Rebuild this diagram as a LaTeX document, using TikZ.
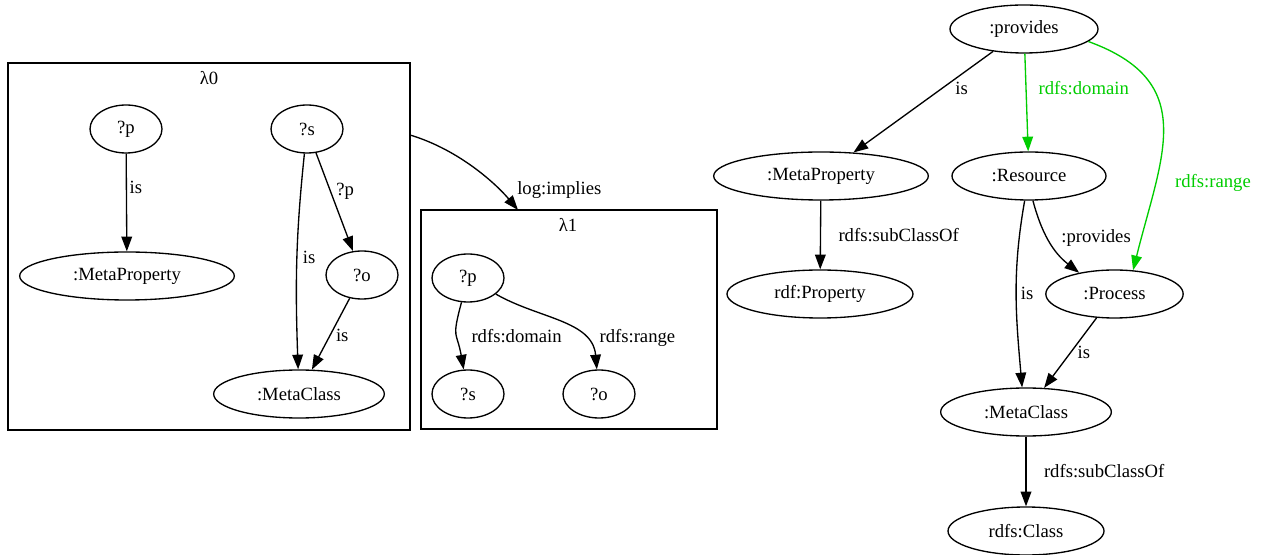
\documentclass[tikz,border=0pt]{standalone}
\usepackage{fontspec}
\setmainfont{Liberation Serif}
\usetikzlibrary{arrows.meta,shapes.geometric}
\definecolor{rdfgreen}{RGB}{0,205,0}

\begin{document}
\begin{tikzpicture}[x=0.75pt,y=0.75pt,
  every node/.style={font=\fontsize{14pt}{16pt}\selectfont},
  term/.style={ellipse,draw,line width=1pt,inner sep=0pt,minimum height=36pt,minimum width=#1},
  term/.default=54pt,
  cluster/.style={draw,line width=1pt,inner sep=0pt},
  lbl/.style={anchor=west,inner sep=0pt},
  rel/.style={->,line width=1pt},
  >={Triangle[length=11pt,width=8pt]}]
\useasboundingbox (0,0) rectangle (1270,-555);

% lambda 0
\node[cluster,minimum width=301.5pt,minimum height=275.25pt] (lam0) at (209,-246.5) {};
\node (lam0lbl) at (209,-78) {λ0};
\node[term] (p0) at (126,-129) {?p};
\node[term=161pt] (mp0) at (127,-276) {:MetaProperty};
\node[term] (s0) at (307,-129) {?s};
\node[term] (o0) at (362,-275) {?o};
\node[term=128pt] (mc0) at (299,-394) {:MetaClass};
\path[rel]
(p0) edge node[lbl,pos=0.35,xshift=2pt] {is} (mp0)
(s0) edge[out=-96,in=92] node[lbl,pos=0.48,xshift=4pt] {is} (mc0)
(s0) edge node[lbl,pos=0.39,xshift=4pt] {?p} (o0)
(o0) edge node[lbl,pos=0.52,xshift=4pt] {is} (mc0);

% lambda 1
\node[cluster,minimum width=222pt,minimum height=164.25pt] (lam1) at (569,-319.5) {};
\node (lam1lbl) at (568,-225) {λ1};
\node[term] (p1) at (468,-278) {?p};
\node[term] (s1) at (468,-394) {?s};
\node[term] (o1) at (599,-394) {?o};
\path[rel]
(p1) edge[out=-105,in=100,looseness=1.5] node[lbl,pos=0.5,xshift=11pt] {rdfs:domain} (s1)
(p1) edge[out=-30,in=95] node[lbl,pos=0.72,xshift=12pt] {rdfs:range} (o1);

% lambda 0 implies lambda 1
\coordinate (imp0) at (410,-135);
\coordinate (imp1) at (518,-210);
\draw[rel] (imp0) .. controls (460,-150) and (497,-185) .. node[lbl,pos=0.75,xshift=13pt] {log:implies} (imp1);

% schema
\node[term=111pt] (prov) at (1024,-29) {:provides};
\node[term=161pt] (mp2) at (821,-176) {:MetaProperty};
\node[term=115.5pt] (res) at (1029,-176) {:Resource};
\node[term=139.5pt] (rdfp) at (820,-294) {rdf:Property};
\node[term=103pt] (proc) at (1114.5,-294) {:Process};
\node[term=128pt] (mc2) at (1026,-412) {:MetaClass};
\node[term=117pt] (rcls) at (1026,-531) {rdfs:Class};
\path[rel]
(prov) edge node[lbl,pos=0.37,xshift=10pt] {is} (mp2)
(mp2) edge node[lbl,pos=0.5,xshift=13pt] {rdfs:subClassOf} (rdfp)
(res) edge[out=-100,in=95] node[lbl,pos=0.5,xshift=3pt] {is} (mc2.99)
(res.-81) edge[out=-75,in=142] node[lbl,pos=0.45,xshift=10pt] {:provides} (proc.149)
(proc) edge node[lbl,pos=0.5,xshift=5pt] {is} (mc2)
(mc2) edge node[lbl,pos=0.5,xshift=13pt] {rdfs:subClassOf} (rcls);
\path[rel,rdfgreen]
(prov) edge node[lbl,pos=0.35,xshift=9pt] {rdfs:domain} (res)
(prov.-11) edge[out=-20,in=76,looseness=1.3] node[lbl,pos=0.72,xshift=14pt] {rdfs:range} (proc.52);
\end{tikzpicture}
\end{document}
